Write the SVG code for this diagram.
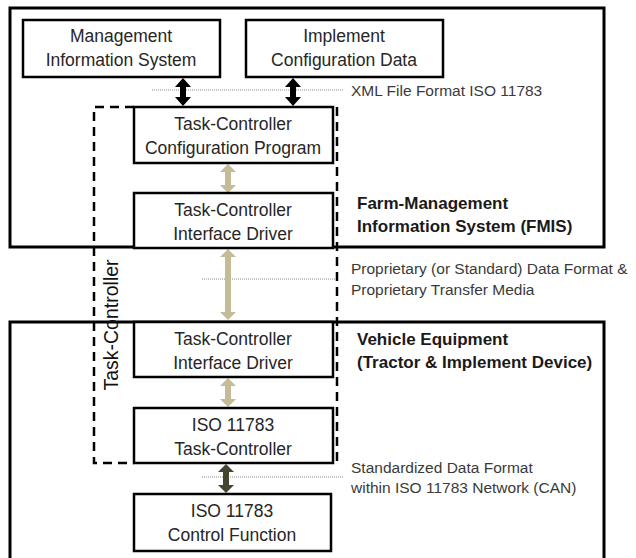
<svg xmlns="http://www.w3.org/2000/svg" width="636" height="558" viewBox="0 0 636 558">
<style>
.box{fill:#fff;stroke:#000;stroke-width:2.5}
.big{fill:none;stroke:#000;stroke-width:3}
.t{font-family:"Liberation Sans",Arial,sans-serif;font-size:17.5px;fill:#262626;text-anchor:middle}
.lb{font-family:"Liberation Sans",Arial,sans-serif;font-size:15.5px;fill:#3a3a3a}
.bt{font-family:"Liberation Sans",Arial,sans-serif;font-size:17px;font-weight:bold;fill:#1a1a1a}
.dot{stroke:#8c8c8c;stroke-width:1;stroke-dasharray:1 1;fill:none}
.dash{stroke:#000;stroke-width:2.5;stroke-dasharray:9 6;fill:none}
</style>
<rect width="636" height="558" fill="#fff"/>
<g id="fmis"><rect class="big" x="10" y="8" width="594" height="239"/>
<text class="bt" x="357" y="209">Farm-Management</text>
<text class="bt" x="357" y="232">Information System (FMIS)</text></g>
<g id="vehicle"><rect class="big" x="10" y="322" width="594" height="245"/>
<text class="bt" x="357" y="345">Vehicle Equipment</text>
<text class="bt" x="357" y="368">(Tractor &amp; Implement Device)</text></g>
<g id="task-controller-group"><path class="dash" d="M134 107 H94 V463 H134"/><path class="dash" d="M337 107 V463"/>
<text class="t" transform="translate(118 325) rotate(-90)" style="font-size:19.5px;fill:#111">Task-Controller</text></g>
<g id="connectors">
<line class="dot" x1="152" y1="90" x2="343" y2="90"/>
<line class="dot" x1="202" y1="279" x2="335" y2="279"/>
<line class="dot" x1="202" y1="477" x2="343" y2="477"/>
<polygon fill="#000" points="183,78 191,87 186,87 186,97 191,97 183,106 175,97 180,97 180,87 175,87"/>
<polygon fill="#000" points="293,78 301,87 296,87 296,97 301,97 293,106 285,97 290,97 290,87 285,87"/>
<polygon fill="#c4bc96" points="228,164 236,172 231,172 231,185 236,185 228,193 220,185 225,185 225,172 220,172"/>
<polygon fill="#c4bc96" points="228,249 236,257 231,257 231,312 236,312 228,320 220,312 225,312 225,257 220,257"/>
<polygon fill="#c4bc96" points="228,378 236,386 231,386 231,399 236,399 228,407 220,399 225,399 225,386 220,386"/>
<polygon fill="#4a4530" points="226,464 234,472 229,472 229,485 234,485 226,493 218,485 223,485 223,472 218,472"/>
</g>
<g id="mis"><rect class="box" x="23" y="20" width="197" height="57"/>
<text class="t" x="121" y="42">Management</text><text class="t" x="121" y="66">Information System</text></g>
<g id="icd"><rect class="box" x="246" y="20" width="197" height="57"/>
<text class="t" x="344" y="42">Implement</text><text class="t" x="344" y="66">Configuration Data</text></g>
<g id="tccp"><rect class="box" x="134" y="107" width="199" height="56"/>
<text class="t" x="233" y="130">Task-Controller</text><text class="t" x="233" y="154">Configuration Program</text></g>
<g id="tcid1"><rect class="box" x="134" y="193" width="199" height="55"/>
<text class="t" x="233" y="216">Task-Controller</text><text class="t" x="233" y="240">Interface Driver</text></g>
<g id="tcid2"><rect class="box" x="134" y="322" width="199" height="55"/>
<text class="t" x="233" y="345">Task-Controller</text><text class="t" x="233" y="369">Interface Driver</text></g>
<g id="tc"><rect class="box" x="134" y="408" width="199" height="55"/>
<text class="t" x="233" y="431">ISO 11783</text><text class="t" x="233" y="455">Task-Controller</text></g>
<g id="cf"><rect class="box" x="134" y="494" width="197" height="57"/>
<text class="t" x="232" y="517">ISO 11783</text><text class="t" x="232" y="541">Control Function</text></g>
<g id="labels">
<text class="lb" x="351" y="96">XML File Format ISO 11783</text>
<text class="lb" x="351" y="274">Proprietary (or Standard) Data Format &amp;</text>
<text class="lb" x="351" y="295">Proprietary Transfer Media</text>
<text class="lb" x="351" y="473">Standardized Data Format</text>
<text class="lb" x="351" y="493">within ISO 11783 Network (CAN)</text>
</g>
</svg>
